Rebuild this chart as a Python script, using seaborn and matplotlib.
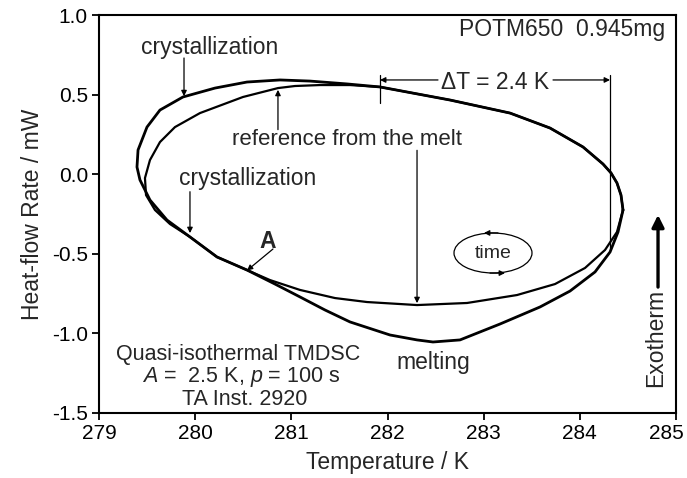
import matplotlib
matplotlib.use("Agg")
import matplotlib.pyplot as plt
from matplotlib.patches import Ellipse
import matplotlib.transforms as mtransforms
import pandas as pd
import seaborn as sns

# Outer loop (crystallization on cooling, melting on heating), counterclockwise in time
outer_T = [284.449, 284.428, 284.386, 284.324, 284.241, 284.033, 283.690, 283.274,
           282.650, 281.922, 281.579, 281.194, 280.882, 280.539, 280.206, 279.873,
           279.634, 279.499, 279.406, 279.395, 279.426, 279.530, 279.707, 279.946,
           280.227, 280.539, 280.830, 281.090, 281.350, 281.610, 282.026, 282.307,
           282.473, 282.754, 283.170, 283.586, 283.898, 284.158, 284.314, 284.397,
           284.449]
outer_H = [-0.225, -0.131, -0.055, 0.008, 0.064, 0.171, 0.290, 0.384,
           0.466, 0.548, 0.567, 0.585, 0.592, 0.579, 0.541, 0.485,
           0.403, 0.296, 0.152, 0.045, -0.036, -0.162, -0.288, -0.394,
           -0.520, -0.602, -0.690, -0.771, -0.853, -0.928, -1.010, -1.041,
           -1.054, -1.041, -0.941, -0.834, -0.734, -0.614, -0.489, -0.363,
           -0.225]

# Reference loop measured on cooling from the melt
ref_T = [284.449, 284.428, 284.386, 284.324, 284.241, 284.033, 283.690, 283.274,
         282.650, 281.922, 281.610, 281.298, 281.038, 280.861, 280.497, 280.050,
         279.790, 279.634, 279.530, 279.478, 279.489, 279.582, 279.738, 279.946,
         280.227, 280.539, 280.778, 281.090, 281.454, 281.787, 282.307, 282.827,
         283.347, 283.742, 284.054, 284.262, 284.386, 284.449]
ref_H = [-0.225, -0.131, -0.055, 0.008, 0.064, 0.171, 0.290, 0.384,
         0.466, 0.548, 0.560, 0.560, 0.554, 0.541, 0.485, 0.384,
         0.296, 0.202, 0.089, -0.024, -0.131, -0.225, -0.313, -0.394,
         -0.520, -0.602, -0.665, -0.727, -0.778, -0.803, -0.822, -0.809,
         -0.759, -0.690, -0.589, -0.476, -0.363, -0.225]

x_ticks = [279, 280, 281, 282, 283, 284, 285]
y_ticks = [1.0, 0.5, 0.0, -0.5, -1.0, -1.5]
y_tick_labels = ["1.0", "0.5", "0.0", "-0.5", "-1.0", "-1.5"]

delta_T_low, delta_T_high = 281.922, 284.314

sns.set_style("ticks")
plt.rcParams["font.family"] = ["Liberation Sans", "DejaVu Sans"]
plt.rcParams["mathtext.fontset"] = "custom"
plt.rcParams["mathtext.rm"] = "Liberation Sans"
plt.rcParams["mathtext.it"] = "Liberation Sans:italic"
plt.rcParams["axes.unicode_minus"] = False

FS = 16.5
TICK_FS = 15
INFO_FS = 15.5

fig = plt.figure(figsize=(6.87, 4.78), dpi=100)
ax = fig.add_axes([0.1441, 0.136, 0.8399, 0.8326])

outer = pd.DataFrame({"T": outer_T, "H": outer_H})
ref = pd.DataFrame({"T": ref_T, "H": ref_H})
sns.lineplot(data=outer, x="T", y="H", sort=False, estimator=None,
             color="black", lw=2.0, ax=ax)
sns.lineplot(data=ref, x="T", y="H", sort=False, estimator=None,
             color="black", lw=1.6, ax=ax)

ax.set_xlim(279, 285)
ax.set_ylim(-1.5, 1.0)
ax.set_xticks(x_ticks)
ax.set_xticklabels([str(t) for t in x_ticks])
ax.set_yticks(y_ticks)
ax.set_yticklabels(y_tick_labels)
ax.tick_params(axis="both", direction="out", length=5, width=1.3,
               labelsize=TICK_FS, pad=3, color="black", labelcolor="black")
for s in ax.spines.values():
    s.set_linewidth(1.5)
    s.set_color("black")

# keep the last temperature label inside the canvas
last = ax.get_xticklabels()[-1]
last.set_transform(last.get_transform() +
                   mtransforms.ScaledTranslation(-10 / 100, 0, fig.dpi_scale_trans))

ax.set_xlabel("Temperature / K", fontsize=FS, labelpad=6)
ax.set_ylabel("Heat-flow Rate / mW", fontsize=FS, labelpad=6)

thin = dict(arrowstyle="-|>", lw=0.9, color="black", mutation_scale=8,
            shrinkA=0, shrinkB=0)

# Labels with pointer arrows
ax.text(280.154, 0.799, "crystallization", fontsize=FS, ha="center", va="center")
ax.annotate("", xy=(279.884, 0.49), xytext=(279.884, 0.73), arrowprops=thin)

ax.text(281.584, 0.215, "reference from the melt", fontsize=FS - 0.5, ha="center", va="center")
ax.annotate("", xy=(280.861, 0.53), xytext=(280.861, 0.28), arrowprops=thin)
ax.annotate("", xy=(282.307, -0.81), xytext=(282.307, 0.15), arrowprops=thin)

ax.text(280.544, -0.024, "crystallization", fontsize=FS, ha="center", va="center")
ax.annotate("", xy=(279.946, -0.37), xytext=(279.946, -0.11), arrowprops=thin)

ax.text(280.757, -0.42, "A", fontsize=FS, fontweight="bold", ha="center", va="center")
ax.annotate("", xy=(280.539, -0.605), xytext=(280.809, -0.47), arrowprops=thin)

ax.text(282.473, -1.18, "melting", fontsize=FS, ha="center", va="center")

ax.text(280.445, -1.130, "Quasi-isothermal TMDSC", fontsize=INFO_FS, ha="center", va="center")
ax.text(280.477, -1.275, r"$A$ =  2.5 K, $p$ = 100 s", fontsize=INFO_FS, ha="center", va="center")
ax.text(280.518, -1.415, "TA Inst. 2920", fontsize=INFO_FS, ha="center", va="center")

ax.text(284.885, 0.906, "POTM650  0.945mg", fontsize=FS, ha="right", va="center")

# Temperature difference marker
ax.plot([delta_T_low, delta_T_low], [0.623, 0.447], color="black", lw=0.9)
ax.plot([delta_T_high, delta_T_high], [0.623, -0.476], color="black", lw=0.9)
ax.annotate("", xy=(delta_T_low, 0.592), xytext=(282.525, 0.592), arrowprops=thin)
ax.annotate("", xy=(delta_T_high, 0.592), xytext=(283.721, 0.592), arrowprops=thin)
ax.text((282.525 + 283.721) / 2, 0.575, "ΔT = 2.4 K", fontsize=FS, ha="center", va="center")

# Time direction ellipse
ax.add_patch(Ellipse((283.097, -0.495), 0.811, 0.251, fill=False, lw=0.9, ec="black"))
ax.text(283.097, -0.495, "time", fontsize=FS - 2.5, ha="center", va="center")
ax.annotate("", xy=(283.003, -0.369), xytext=(283.149, -0.369), arrowprops=thin)
ax.annotate("", xy=(283.222, -0.621), xytext=(283.066, -0.621), arrowprops=thin)

# Exotherm direction
ax.annotate("", xy=(284.813, -0.256), xytext=(284.813, -0.709),
            arrowprops=dict(arrowstyle="-|>", lw=2.4, color="black",
                            mutation_scale=18, shrinkA=0, shrinkB=0))
ax.text(284.792, -1.029, "Exotherm", fontsize=FS, rotation=90, ha="center", va="center")

fig.savefig("out.png", dpi=100)
